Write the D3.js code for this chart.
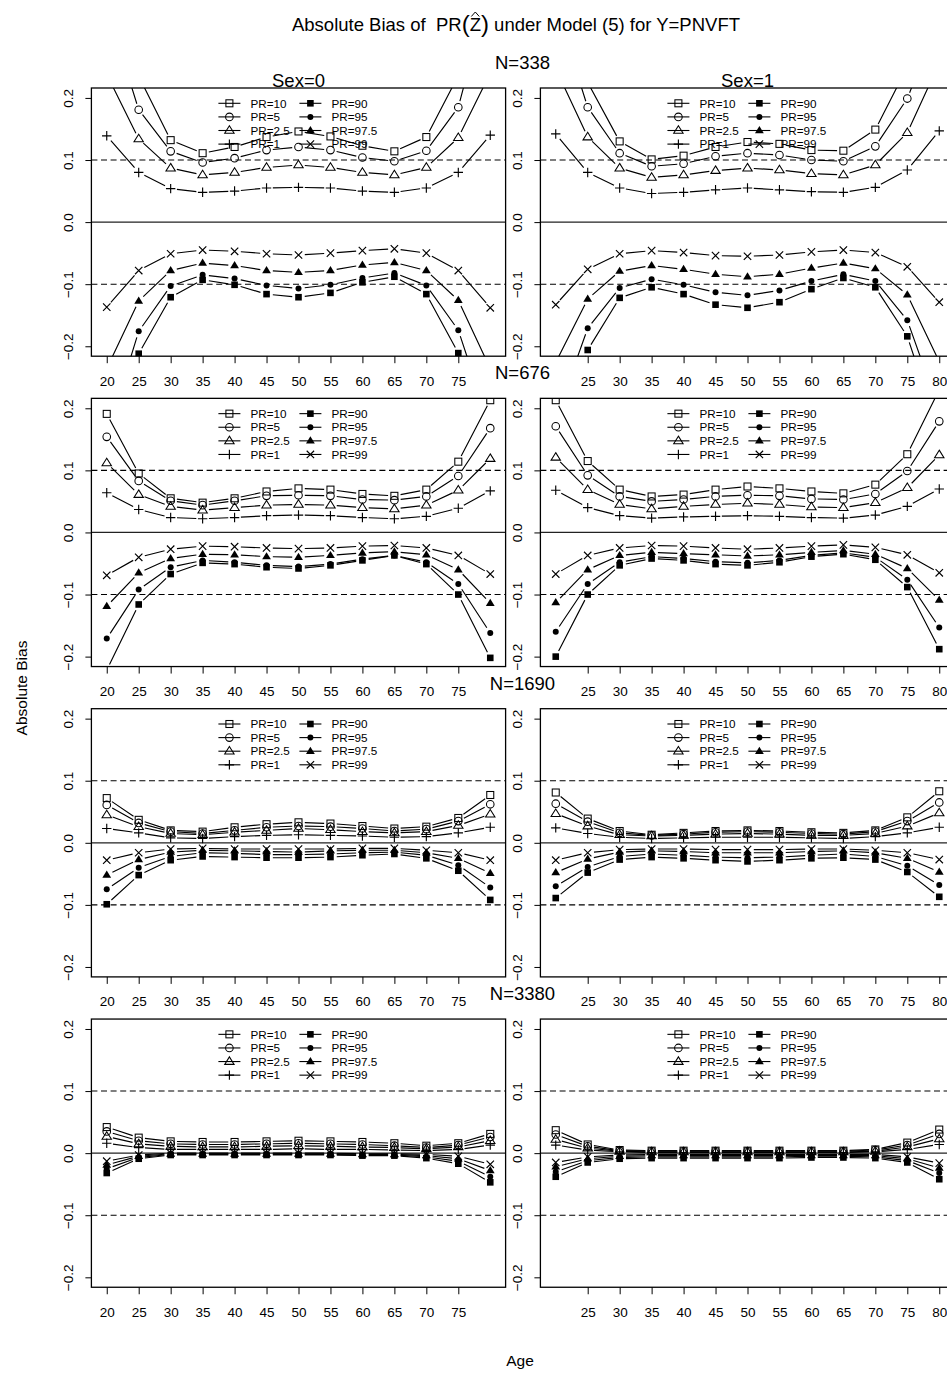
<!DOCTYPE html>
<html>
<head>
<meta charset="utf-8">
<script src="https://cdn.jsdelivr.net/npm/d3@7"></script>
<style>
  html, body { margin: 0; padding: 0; background: #fff; }
  svg { display: block; font-family: "Liberation Sans", Arial, Helvetica, sans-serif; }
</style>
</head>
<body>
<svg id="chart" width="947" height="1375"></svg>
<script>
// ---- data -------------------------------------------------------------
const ages = [20, 25, 30, 35, 40, 45, 50, 55, 60, 65, 70, 75, 80];
const prLabels = ["PR=10", "PR=5", "PR=2.5", "PR=1", "PR=90", "PR=95", "PR=97.5", "PR=99"];
const sampleSizes = ["N=338", "N=676", "N=1690", "N=3380"];
const sexLabels = ["Sex=0", "Sex=1"];
const yTickValues = [-0.2, -0.1, 0, 0.1, 0.2];
const xTicksSex0 = [20, 25, 30, 35, 40, 45, 50, 55, 60, 65, 70, 75];
const xTicksSex1 = [25, 30, 35, 40, 45, 50, 55, 60, 65, 70, 75, 80];
const dashedRefs = [-0.1, 0.1];

// rows follow prLabels order; columns follow ages
const biasN338Sex0 = [
  [0.400, 0.235, 0.132, 0.111, 0.121, 0.137, 0.146, 0.138, 0.123, 0.114, 0.137, 0.236, 0.400],
  [0.346, 0.181, 0.114, 0.096, 0.103, 0.116, 0.121, 0.116, 0.104, 0.098, 0.115, 0.185, 0.380],
  [0.238, 0.134, 0.087, 0.076, 0.080, 0.088, 0.092, 0.088, 0.080, 0.076, 0.088, 0.136, 0.240],
  [0.139, 0.080, 0.054, 0.048, 0.050, 0.055, 0.056, 0.055, 0.050, 0.048, 0.055, 0.080, 0.140],
  [-0.400, -0.212, -0.121, -0.093, -0.101, -0.116, -0.121, -0.114, -0.097, -0.088, -0.116, -0.211, -0.400],
  [-0.343, -0.176, -0.103, -0.085, -0.091, -0.102, -0.107, -0.101, -0.090, -0.082, -0.102, -0.174, -0.330],
  [-0.236, -0.127, -0.078, -0.066, -0.070, -0.078, -0.081, -0.078, -0.069, -0.065, -0.078, -0.126, -0.236],
  [-0.137, -0.078, -0.051, -0.045, -0.047, -0.051, -0.053, -0.050, -0.046, -0.043, -0.050, -0.078, -0.138]
];
const biasN338Sex1 = [
  [0.400, 0.225, 0.130, 0.101, 0.107, 0.121, 0.129, 0.126, 0.116, 0.115, 0.149, 0.250, 0.420],
  [0.348, 0.185, 0.111, 0.090, 0.094, 0.106, 0.111, 0.108, 0.100, 0.098, 0.122, 0.199, 0.330],
  [0.247, 0.137, 0.087, 0.072, 0.076, 0.083, 0.087, 0.084, 0.078, 0.076, 0.092, 0.144, 0.256],
  [0.142, 0.080, 0.055, 0.046, 0.048, 0.052, 0.055, 0.052, 0.049, 0.048, 0.056, 0.084, 0.147],
  [-0.360, -0.206, -0.122, -0.105, -0.116, -0.133, -0.138, -0.129, -0.108, -0.090, -0.105, -0.184, -0.340],
  [-0.316, -0.171, -0.106, -0.092, -0.101, -0.113, -0.118, -0.110, -0.095, -0.084, -0.095, -0.158, -0.303],
  [-0.226, -0.124, -0.079, -0.070, -0.076, -0.084, -0.088, -0.084, -0.074, -0.066, -0.075, -0.117, -0.225],
  [-0.133, -0.076, -0.051, -0.046, -0.049, -0.054, -0.055, -0.053, -0.048, -0.045, -0.049, -0.072, -0.129]
];
const biasN676Sex0 = [
  [0.191, 0.095, 0.055, 0.048, 0.055, 0.066, 0.071, 0.069, 0.062, 0.059, 0.069, 0.114, 0.213],
  [0.154, 0.083, 0.051, 0.044, 0.051, 0.059, 0.060, 0.059, 0.053, 0.052, 0.058, 0.091, 0.168],
  [0.112, 0.061, 0.042, 0.036, 0.040, 0.044, 0.045, 0.044, 0.040, 0.038, 0.044, 0.068, 0.119],
  [0.064, 0.037, 0.024, 0.022, 0.024, 0.027, 0.028, 0.027, 0.024, 0.022, 0.026, 0.039, 0.067],
  [-0.222, -0.116, -0.067, -0.049, -0.051, -0.056, -0.058, -0.053, -0.045, -0.037, -0.051, -0.100, -0.202],
  [-0.171, -0.092, -0.056, -0.045, -0.048, -0.053, -0.055, -0.051, -0.043, -0.037, -0.048, -0.083, -0.162],
  [-0.119, -0.065, -0.042, -0.035, -0.036, -0.039, -0.040, -0.037, -0.033, -0.031, -0.036, -0.060, -0.114],
  [-0.069, -0.040, -0.027, -0.022, -0.023, -0.025, -0.026, -0.025, -0.022, -0.021, -0.025, -0.037, -0.067]
];
const biasN676Sex1 = [
  [0.213, 0.115, 0.069, 0.058, 0.061, 0.069, 0.074, 0.071, 0.066, 0.063, 0.077, 0.126, 0.230],
  [0.171, 0.092, 0.058, 0.050, 0.053, 0.058, 0.060, 0.059, 0.054, 0.053, 0.062, 0.099, 0.179],
  [0.121, 0.069, 0.045, 0.038, 0.042, 0.045, 0.047, 0.045, 0.041, 0.040, 0.048, 0.072, 0.125],
  [0.068, 0.040, 0.027, 0.023, 0.025, 0.026, 0.027, 0.026, 0.024, 0.023, 0.028, 0.042, 0.070],
  [-0.200, -0.100, -0.053, -0.042, -0.045, -0.051, -0.053, -0.048, -0.039, -0.035, -0.044, -0.088, -0.188],
  [-0.160, -0.083, -0.048, -0.039, -0.042, -0.047, -0.049, -0.045, -0.037, -0.033, -0.040, -0.076, -0.153],
  [-0.113, -0.060, -0.037, -0.032, -0.034, -0.036, -0.038, -0.036, -0.032, -0.029, -0.035, -0.058, -0.109],
  [-0.067, -0.037, -0.025, -0.021, -0.022, -0.025, -0.027, -0.025, -0.022, -0.020, -0.024, -0.036, -0.065]
];
const biasN1690Sex0 = [
  [0.072, 0.037, 0.020, 0.018, 0.025, 0.030, 0.033, 0.031, 0.027, 0.023, 0.026, 0.040, 0.077],
  [0.061, 0.032, 0.018, 0.015, 0.020, 0.025, 0.027, 0.026, 0.023, 0.019, 0.022, 0.035, 0.062],
  [0.045, 0.026, 0.015, 0.013, 0.017, 0.020, 0.023, 0.021, 0.018, 0.016, 0.018, 0.028, 0.046],
  [0.023, 0.016, 0.008, 0.007, 0.010, 0.012, 0.013, 0.012, 0.011, 0.009, 0.010, 0.016, 0.025],
  [-0.099, -0.052, -0.028, -0.022, -0.023, -0.024, -0.024, -0.023, -0.020, -0.018, -0.025, -0.045, -0.092],
  [-0.075, -0.040, -0.022, -0.016, -0.017, -0.019, -0.019, -0.018, -0.016, -0.015, -0.020, -0.036, -0.072],
  [-0.052, -0.027, -0.015, -0.012, -0.013, -0.014, -0.015, -0.013, -0.012, -0.012, -0.016, -0.025, -0.049],
  [-0.028, -0.016, -0.010, -0.009, -0.010, -0.010, -0.010, -0.010, -0.009, -0.009, -0.012, -0.016, -0.028]
];
const biasN1690Sex1 = [
  [0.081, 0.039, 0.019, 0.013, 0.016, 0.019, 0.020, 0.019, 0.017, 0.016, 0.020, 0.041, 0.083],
  [0.063, 0.034, 0.016, 0.012, 0.014, 0.017, 0.018, 0.017, 0.015, 0.014, 0.018, 0.035, 0.065],
  [0.047, 0.027, 0.013, 0.011, 0.012, 0.014, 0.015, 0.014, 0.012, 0.012, 0.015, 0.027, 0.048],
  [0.024, 0.015, 0.009, 0.007, 0.008, 0.009, 0.009, 0.009, 0.008, 0.007, 0.010, 0.016, 0.025],
  [-0.089, -0.048, -0.027, -0.023, -0.025, -0.028, -0.030, -0.028, -0.025, -0.024, -0.027, -0.047, -0.087],
  [-0.070, -0.039, -0.022, -0.018, -0.020, -0.023, -0.024, -0.023, -0.020, -0.018, -0.022, -0.037, -0.068],
  [-0.048, -0.026, -0.015, -0.013, -0.014, -0.016, -0.016, -0.016, -0.014, -0.013, -0.016, -0.025, -0.047],
  [-0.028, -0.016, -0.011, -0.010, -0.010, -0.011, -0.011, -0.011, -0.010, -0.010, -0.012, -0.016, -0.027]
];
const biasN3380Sex0 = [
  [0.042, 0.025, 0.019, 0.018, 0.018, 0.019, 0.020, 0.019, 0.018, 0.016, 0.012, 0.016, 0.031],
  [0.035, 0.020, 0.015, 0.014, 0.014, 0.015, 0.016, 0.015, 0.014, 0.012, 0.009, 0.013, 0.026],
  [0.027, 0.015, 0.011, 0.010, 0.010, 0.011, 0.012, 0.011, 0.010, 0.009, 0.007, 0.010, 0.020],
  [0.016, 0.009, 0.006, 0.006, 0.006, 0.006, 0.007, 0.006, 0.006, 0.005, 0.004, 0.006, 0.013],
  [-0.032, -0.009, -0.003, -0.003, -0.003, -0.003, -0.003, -0.003, -0.004, -0.004, -0.008, -0.017, -0.047],
  [-0.025, -0.007, -0.002, -0.002, -0.002, -0.002, -0.002, -0.002, -0.003, -0.003, -0.006, -0.013, -0.038],
  [-0.019, -0.005, -0.001, -0.001, -0.001, -0.001, -0.001, -0.001, -0.002, -0.002, -0.004, -0.009, -0.028],
  [-0.013, -0.003, 0.000, 0.000, 0.000, 0.000, 0.000, 0.000, -0.001, -0.001, -0.002, -0.005, -0.018]
];
const biasN3380Sex1 = [
  [0.037, 0.014, 0.005, 0.004, 0.004, 0.004, 0.004, 0.004, 0.004, 0.004, 0.006, 0.017, 0.038],
  [0.030, 0.011, 0.004, 0.003, 0.003, 0.003, 0.003, 0.003, 0.003, 0.003, 0.005, 0.013, 0.031],
  [0.022, 0.008, 0.003, 0.002, 0.002, 0.002, 0.002, 0.002, 0.002, 0.002, 0.003, 0.010, 0.023],
  [0.013, 0.005, 0.002, 0.001, 0.001, 0.001, 0.001, 0.001, 0.001, 0.001, 0.002, 0.006, 0.014],
  [-0.038, -0.015, -0.009, -0.008, -0.008, -0.008, -0.008, -0.008, -0.007, -0.007, -0.008, -0.015, -0.042],
  [-0.030, -0.012, -0.007, -0.006, -0.006, -0.006, -0.006, -0.006, -0.005, -0.005, -0.006, -0.012, -0.032],
  [-0.022, -0.009, -0.005, -0.004, -0.004, -0.004, -0.004, -0.004, -0.004, -0.004, -0.004, -0.009, -0.024],
  [-0.015, -0.006, -0.003, -0.002, -0.002, -0.002, -0.002, -0.002, -0.002, -0.002, -0.002, -0.006, -0.016]
];

const panelData = [
  [biasN338Sex0, biasN338Sex1],
  [biasN676Sex0, biasN676Sex1],
  [biasN1690Sex0, biasN1690Sex1],
  [biasN3380Sex0, biasN3380Sex1]
];

// ---- layout ------------------------------------------------------------
const svg = d3.select("#chart");
const FONT = '"Liberation Sans", Arial, Helvetica, sans-serif';
const colX0 = [91.4, 540.4];
const panelW = 414.2;
const rowTop0 = 88;
const rowStep = 310.35;
const panelH = 268.2;
const markerKinds = ["sqOpen", "circOpen", "triOpen", "plus", "sqFill", "circFill", "triFill", "cross"];
const GAP = 6.3;
const TICK_FONT = 13.5;

svg.append("rect").attr("width", 947).attr("height", 1375).attr("fill", "#fff");

function drawMarker(g, kind, x, y) {
  const s = "#000";
  switch (kind) {
    case "sqOpen":
      g.append("rect").attr("x", x - 3.5).attr("y", y - 3.5).attr("width", 7).attr("height", 7)
        .attr("fill", "none").attr("stroke", s).attr("stroke-width", 1.05);
      break;
    case "circOpen":
      g.append("circle").attr("cx", x).attr("cy", y).attr("r", 3.8)
        .attr("fill", "none").attr("stroke", s).attr("stroke-width", 1.05);
      break;
    case "triOpen": {
      const h = 4.7;
      g.append("path").attr("d", `M${x},${y - h}L${x + 4.7},${y + h * 0.6}L${x - 4.7},${y + h * 0.6}Z`)
        .attr("fill", "none").attr("stroke", s).attr("stroke-width", 1.05);
      break;
    }
    case "plus":
      g.append("path").attr("d", `M${x - 4.7},${y}H${x + 4.7}M${x},${y - 4.7}V${y + 4.7}`)
        .attr("stroke", s).attr("stroke-width", 1.15);
      break;
    case "cross":
      g.append("path").attr("d", `M${x - 3.7},${y - 3.7}L${x + 3.7},${y + 3.7}M${x - 3.7},${y + 3.7}L${x + 3.7},${y - 3.7}`)
        .attr("stroke", s).attr("stroke-width", 1.15);
      break;
    case "sqFill":
      g.append("rect").attr("x", x - 3.3).attr("y", y - 3.3).attr("width", 6.6).attr("height", 6.6).attr("fill", s);
      break;
    case "circFill":
      g.append("circle").attr("cx", x).attr("cy", y).attr("r", 3).attr("fill", s);
      break;
    case "triFill": {
      const h = 4.5;
      g.append("path").attr("d", `M${x},${y - h}L${x + 4.4},${y + h * 0.6}L${x - 4.4},${y + h * 0.6}Z`).attr("fill", s);
      break;
    }
  }
}

panelData.forEach((rowPanels, r) => {
  const top = rowTop0 + r * rowStep;
  const bottom = top + panelH;

  rowPanels.forEach((series, c) => {
    const x0 = colX0[c];
    const x = d3.scaleLinear().domain([17.6, 82.4]).range([x0, x0 + panelW]);
    const y = d3.scaleLinear().domain([-0.216, 0.216]).range([bottom, top]);

    const clipId = `clip-${r}-${c}`;
    svg.append("clipPath").attr("id", clipId)
      .append("rect").attr("x", x0).attr("y", top).attr("width", panelW).attr("height", panelH);

    const plot = svg.append("g").attr("clip-path", `url(#${clipId})`);

    // reference lines
    plot.append("line").attr("x1", x0).attr("x2", x0 + panelW)
      .attr("y1", y(0)).attr("y2", y(0)).attr("stroke", "#222").attr("stroke-width", 1.2);
    dashedRefs.forEach(v => {
      plot.append("line").attr("x1", x0).attr("x2", x0 + panelW)
        .attr("y1", y(v)).attr("y2", y(v)).attr("stroke", "#000").attr("stroke-width", 1.1)
        .attr("stroke-dasharray", "6,3.6");
    });

    // lines with gaps around points, then the points
    series.forEach((vals, si) => {
      const pts = vals.map((v, i) => [x(ages[i]), y(v)]);
      const segs = [];
      for (let i = 0; i < pts.length - 1; i++) {
        const [ax, ay] = pts[i], [bx, by] = pts[i + 1];
        const L = Math.hypot(bx - ax, by - ay);
        if (L > 2 * GAP) {
          const ux = (bx - ax) / L, uy = (by - ay) / L;
          segs.push(`M${ax + ux * GAP},${ay + uy * GAP}L${bx - ux * GAP},${by - uy * GAP}`);
        }
      }
      plot.append("path").attr("d", segs.join("")).attr("fill", "none")
        .attr("stroke", "#000").attr("stroke-width", 1.15);
      const mg = plot.append("g");
      pts.forEach(([px, py]) => drawMarker(mg, markerKinds[si], px, py));
    });

    // legend (two columns, no frame)
    const lg = svg.append("g").attr("font-size", 11.7).attr("font-family", FONT);
    prLabels.forEach((lab, i) => {
      const col = Math.floor(i / 4), row = i % 4;
      const ly = top + 15.3 + row * 13.6;
      const lx = x0 + 127 + col * 81;
      lg.append("line").attr("x1", lx).attr("x2", lx + 22).attr("y1", ly).attr("y2", ly)
        .attr("stroke", "#000").attr("stroke-width", 1.1);
      drawMarker(lg, markerKinds[i], lx + 11, ly);
      lg.append("text").attr("x", lx + 32).attr("y", ly).attr("dy", "0.36em").text(lab);
    });

    // frame
    svg.append("rect").attr("x", x0).attr("y", top).attr("width", panelW).attr("height", panelH)
      .attr("fill", "none").attr("stroke", "#000").attr("stroke-width", 1.3);

    // y axis on the left of each panel
    const yAxis = svg.append("g").attr("transform", `translate(${x0},0)`)
      .call(d3.axisLeft(y).tickValues(yTickValues).tickSize(6).tickFormat(d3.format(".1f")));
    yAxis.select(".domain").remove();
    yAxis.selectAll(".tick line").attr("stroke", "#000").attr("stroke-width", 1);
    yAxis.selectAll(".tick text")
      .attr("font-family", FONT).attr("font-size", TICK_FONT).attr("fill", "#000")
      .attr("x", 0).attr("y", -23).attr("dy", "0.35em")
      .attr("text-anchor", "middle").attr("transform", "rotate(-90)");

    // x axis below each panel
    const xAxis = svg.append("g").attr("transform", `translate(0,${bottom})`)
      .call(d3.axisBottom(x).tickValues(c === 0 ? xTicksSex0 : xTicksSex1).tickSize(7).tickFormat(d3.format("d")));
    xAxis.select(".domain").remove();
    xAxis.selectAll(".tick line").attr("stroke", "#000").attr("stroke-width", 1);
    xAxis.selectAll(".tick text")
      .attr("font-family", FONT).attr("font-size", TICK_FONT).attr("fill", "#000")
      .attr("y", 29.6).attr("dy", 0);
  });

  // sample size heading for the row
  svg.append("text").attr("x", 522.5).attr("y", top - 19)
    .attr("text-anchor", "middle").attr("font-size", 18.5).attr("font-family", FONT)
    .text(sampleSizes[r]);
});

// sex headings above the first row
sexLabels.forEach((lab, c) => {
  svg.append("text").attr("x", colX0[c] + panelW / 2).attr("y", rowTop0 - 0.8)
    .attr("text-anchor", "middle").attr("font-size", 18.5).attr("font-family", FONT)
    .text(lab);
});

// main title with PR(Z-hat)
const title = svg.append("text").attr("y", 30.7).attr("font-size", 18.5)
  .attr("font-family", FONT).style("white-space", "pre");
title.append("tspan").text("Absolute Bias of  PR");
title.append("tspan").attr("font-size", 24).attr("dy", 1.5).text("(");
title.append("tspan").attr("dy", -1.5).text("Z");
title.append("tspan").attr("font-size", 24).attr("dy", 1.5).text(")");
title.append("tspan").attr("dy", -1.5).text(" under Model (5) for Y=PNVFT");
const tLen = title.node().getComputedTextLength();
title.attr("x", 516 - tLen / 2);
{
  const node = title.node();
  const zIdx = "Absolute Bias of  PR(".length;
  const zs = node.getStartPositionOfChar(zIdx).x;
  const ze = node.getEndPositionOfChar(zIdx).x;
  const zc = (zs + ze) / 2;
  svg.append("path").attr("d", `M${zc - 4},${16.5}L${zc},${12}L${zc + 4},${16.5}`)
    .attr("fill", "none").attr("stroke", "#000").attr("stroke-width", 1);
}

// axis titles
svg.append("text").attr("x", 520).attr("y", 1366).attr("text-anchor", "middle")
  .attr("font-size", 15.5).attr("font-family", FONT).text("Age");
svg.append("text").attr("transform", "translate(22,688) rotate(-90)").attr("text-anchor", "middle")
  .attr("dy", "0.35em").attr("font-size", 15.5).attr("font-family", FONT).text("Absolute Bias");
</script>
</body>
</html>
